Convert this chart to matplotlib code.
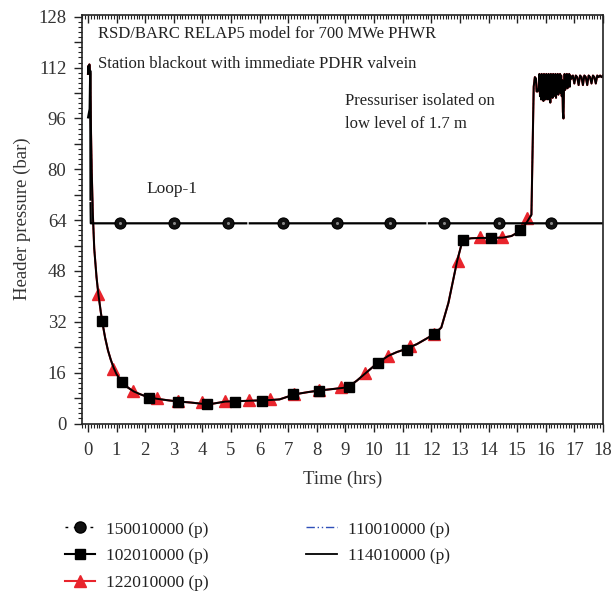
import matplotlib
matplotlib.use('Agg')
import matplotlib.pyplot as plt
from matplotlib.lines import Line2D
from matplotlib.ticker import MultipleLocator, FuncFormatter

plt.rcParams['font.family'] = ['Liberation Serif', 'DejaVu Serif']
plt.rcParams['font.size'] = 12.5

# 150010000 (p): loop-1 line, almost flat after the first minutes
t_150 = [0.0, 0.03, 0.06, 0.08, 0.09, 0.10, 0.12, 18.0]
p_150 = [96.0, 97.5, 99.0, 111.0, 70.0, 63.0, 63.0, 63.0]
t_150_mk = [1.12, 3.0, 4.9, 6.8, 8.7, 10.55, 12.45, 14.35, 16.2]
p_150_mk = [63.0] * len(t_150_mk)

# shared header pressure curve (102, 110, 114, 122 nearly coincide)
t_loop = [0.0, 0.01, 0.03, 0.05, 0.08, 0.10, 0.13, 0.17, 0.22, 0.30, 0.36, 0.45,
          0.50, 0.60, 0.70, 0.80, 0.90, 1.0, 1.2, 1.4, 1.6, 1.8, 2.1, 2.4, 2.8,
          3.2, 3.6, 4.0, 4.15, 4.4, 4.8, 5.1, 5.6, 6.1, 6.4, 6.7, 7.0, 7.3, 7.7,
          8.1, 8.5, 8.9, 9.1, 9.4, 9.7, 10.1, 10.5, 10.8, 11.1, 11.5, 12.1,
          12.35, 12.6, 12.9, 13.1, 13.4, 13.7, 14.1, 14.5, 14.8, 15.0, 15.2,
          15.35, 15.5,
          15.55, 15.58, 15.62, 15.66, 15.68, 15.72, 15.75, 15.78, 15.80, 15.82,
          15.84, 15.86, 15.88, 15.90, 15.92, 15.94, 15.96, 15.98, 16.00, 16.02,
          16.04, 16.06, 16.08, 16.10, 16.12, 16.14, 16.16, 16.18, 16.20, 16.22,
          16.24, 16.26, 16.28, 16.30, 16.32, 16.34, 16.36, 16.38, 16.40, 16.42,
          16.44, 16.46, 16.48, 16.50, 16.52, 16.54, 16.56, 16.58, 16.60, 16.62,
          16.64, 16.66, 16.68, 16.70, 16.72, 16.74, 16.76, 16.78, 16.80, 16.82,
          16.84, 16.86, 16.90, 16.95, 17.0, 17.05, 17.1, 17.15, 17.2, 17.25,
          17.3, 17.35, 17.4, 17.45, 17.5, 17.55, 17.6, 17.65, 17.7, 17.75,
          17.8, 17.85, 17.9, 17.95, 18.0]
p_loop = [110.0, 112.5, 110.5, 113.0, 110.0, 95.0, 80.0, 66.0, 55.0, 46.0, 41.0, 35.0,
          32.0, 27.0, 23.0, 20.0, 17.5, 15.5, 13.0, 11.3, 10.1, 9.3, 8.3, 7.8, 7.3,
          6.9, 6.6, 6.2, 6.0, 6.3, 6.9, 7.0, 7.2, 7.3, 7.4, 7.6, 8.5, 9.3, 9.9,
          10.4, 10.8, 11.2, 11.5, 13.5, 15.8, 18.9, 21.3, 22.5, 23.4, 25.0, 28.1,
          30.2, 38.0, 51.0, 57.9, 58.3, 58.4, 58.4, 58.5, 59.0, 60.0, 61.5,
          63.5, 65.7,
          90.0, 106.0, 109.0, 108.5, 104.5, 104.5, 105.5, 110.0, 103.0, 109.0,
          102.0, 110.0, 104.0, 109.0, 101.5, 110.0, 103.0, 109.5, 102.0, 110.0,
          104.0, 109.5, 102.0, 110.0, 103.5, 109.0, 101.0, 110.0, 104.0, 109.5,
          102.5, 110.0, 103.0, 109.0, 104.5, 110.0, 102.5, 109.5, 104.0, 110.0,
          103.5, 109.0, 105.0, 110.0, 104.0, 109.5, 103.0, 108.0, 98.0, 96.0,
          106.0, 110.0, 105.0, 109.5, 106.0, 110.0, 105.5, 109.0, 106.5, 110.0,
          106.0, 109.5, 108.5, 109.5, 107.0, 109.5, 109.0, 106.5, 109.5, 109.0,
          106.5, 109.5, 109.0, 106.5, 109.5, 109.0, 107.0, 109.5, 109.0, 107.0,
          109.5, 109.0, 109.5, 109.0, 109.5]

# markers of 102010000 (squares) and 122010000 (triangles)
t_102_mk = [0.5, 1.2, 2.13, 3.16, 4.15, 5.14, 6.1, 7.16, 8.09, 9.13, 10.15,
            11.14, 12.11, 13.1, 14.1, 15.1]
p_102_mk = [32.3, 13.2, 8.0, 6.9, 6.0, 6.9, 7.2, 9.3, 10.2, 11.4, 18.9,
            23.2, 28.1, 57.9, 58.4, 60.8]
t_122_mk = [0.36, 0.89, 1.56, 2.4, 3.16, 4.0, 4.79, 5.63, 6.36, 7.2, 8.09,
            8.85, 9.69, 10.47, 11.26, 12.11, 12.92, 13.7, 14.46, 15.36]
p_122_mk = [40.8, 17.1, 10.1, 8.0, 7.2, 6.9, 7.2, 7.4, 7.7, 9.2, 10.6,
            11.4, 15.8, 21.3, 24.5, 28.1, 51.1, 58.6, 58.6, 64.7]

labels = ['150010000 (p)', '102010000 (p)', '122010000 (p)',
          '110010000 (p)', '114010000 (p)']

red = '#e8242c'
blue = '#2e4fb8'
txt = '#222222'

fig = plt.figure(figsize=(6.14, 5.94), dpi=100)
ax = fig.add_axes([0.133, 0.287, 0.849, 0.688])

ax.plot(t_loop, p_loop, color=blue, lw=1.0, ls=(0, (6, 2, 1, 2, 1, 2)))
ax.plot(t_loop, p_loop, color=red, lw=1.5)
ax.plot(t_122_mk, p_122_mk, ls='none', marker='^', ms=8, color=red, mec=red)
ax.plot(t_loop, p_loop, color='black', lw=1.4)
ax.plot(t_102_mk, p_102_mk, ls='none', marker='s', ms=7, color='black')
ax.plot(t_150, p_150, color='black', lw=1.6, ls=(0, (80, 0.6)))
ax.plot(t_150_mk, p_150_mk, ls='none', marker='o', ms=8, mfc='#111111',
        mec='black', mew=0.8)
ax.plot(t_150_mk, p_150_mk, ls='none', marker='o', ms=2.2, mfc='#888888',
        mec='none')

ax.set_xlim(-0.22, 18.0)
ax.set_ylim(0, 128.6)
ax.xaxis.set_major_locator(MultipleLocator(1))
ax.xaxis.set_minor_locator(MultipleLocator(0.1))
ax.yaxis.set_major_locator(MultipleLocator(8))
ax.yaxis.set_minor_locator(MultipleLocator(1.6))
ax.yaxis.set_major_formatter(FuncFormatter(
    lambda v, pos: '%d' % v if int(round(v)) % 16 == 0 else ''))
ax.tick_params(axis='both', labelsize=13.5)
ax.tick_params(axis='x', which='both', direction='out', top=True, colors=txt)
ax.tick_params(axis='x', which='major', length=6, width=1.0, pad=7, labelcolor='#333333')
ax.tick_params(axis='x', which='minor', length=3, width=0.8)
ax.tick_params(axis='y', which='both', direction='out', right=False, colors=txt)
ax.tick_params(axis='y', which='major', length=6, width=1.0, pad=5, labelcolor='#333333')
ax.tick_params(axis='y', which='minor', length=3, width=0.8)
for tk in ax.xaxis.get_major_ticks() + ax.xaxis.get_minor_ticks():
    tk.tick2line.set_marker(3)
for sp in ax.spines.values():
    sp.set_linewidth(1.2)
    sp.set_color(txt)

ax.set_xlabel('Time (hrs)', color='#333333', fontsize=13.5, labelpad=9)
ax.set_ylabel('Header pressure (bar)', color='#333333', fontsize=13.5, labelpad=5)

ax.text(0.35, 122.5, 'RSD/BARC RELAP5 model for 700 MWe PHWR', va='center',
        color=txt, fontsize=12)
ax.text(0.35, 113.0, 'Station blackout with immediate PDHR valvein', va='center',
        color=txt, fontsize=12)
ax.text(9.0, 101.5, 'Pressuriser isolated on', va='center', color=txt, fontsize=12)
ax.text(9.0, 94.3, 'low level of 1.7 m', va='center', color=txt, fontsize=12)
ax.text(2.03, 73.9, 'Loop-1', va='center', color=txt, fontsize=12.5)

handles = [
    Line2D([], [], color='black', lw=1.0, ls=(0, (2, 4)), marker='o', ms=8,
           mfc='#111111', mec='black'),
    Line2D([], [], color='black', lw=1.5, marker='s', ms=7),
    Line2D([], [], color=red, lw=1.5, marker='^', ms=8),
    Line2D([], [], color=blue, lw=1.0, ls=(0, (6, 2, 1, 2, 1, 2))),
    Line2D([], [], color='black', lw=1.3),
]
fig.legend(handles, labels, ncol=2, loc='upper left', bbox_to_anchor=(0.094, 0.134),
           frameon=False, handlelength=1.75, handletextpad=0.65, columnspacing=5.6,
           labelspacing=0.62, bbox_transform=fig.transFigure, borderaxespad=0,
           labelcolor=txt)

fig.savefig('out.png', dpi=100)
